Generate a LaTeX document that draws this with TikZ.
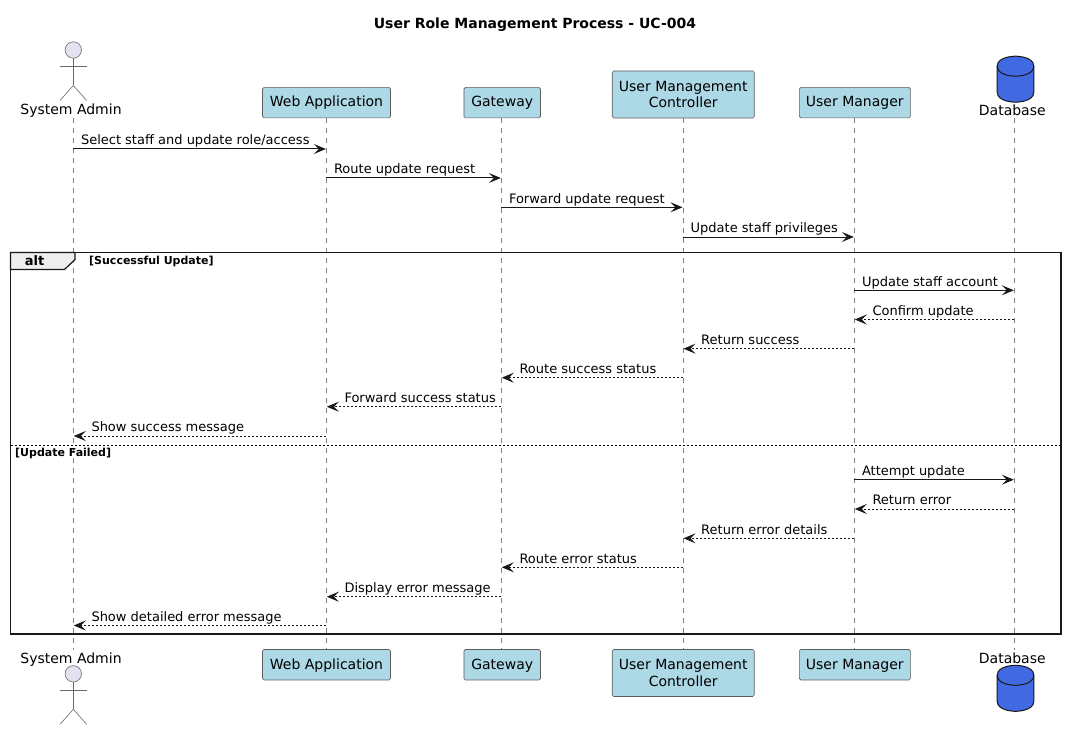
\documentclass[tikz,border=0pt]{standalone}
\usepackage{fontspec}
\setmainfont{DejaVu Sans}
\usetikzlibrary{arrows.meta,calc}
\definecolor{ink}{HTML}{181818}
\definecolor{partfill}{HTML}{ADD8E6}
\definecolor{actorfill}{HTML}{E2E2F0}
\definecolor{dbfill}{HTML}{4169E1}
\definecolor{tabfill}{HTML}{EEEEEE}
\tikzset{
  part/.style={draw=ink!70,line width=.6pt,fill=partfill,rounded corners=1.5pt,align=center,font=\fontsize{14}{16.5}\selectfont,text=black,inner sep=0pt,minimum height=30.5pt},
  single/.style={text height=10.8pt,text depth=2.2pt},
  lbl/.style={font=\fontsize{14}{16}\selectfont,text=black,inner sep=0pt,anchor=base},
  life/.style={draw=ink!55,line width=.6pt,dash pattern=on 5pt off 5pt},
  msgtxt/.style={font=\fontsize{13}{15}\selectfont,text=black,inner sep=0pt,anchor=base west},
  solidmsg/.style={draw=ink,line width=1pt,-{Stealth[length=12pt,width=10pt,inset=5pt,fill=ink]},shorten >=.5pt},
  dashmsg/.style={draw=ink,line width=1pt,dash pattern=on 2pt off 2pt,-{Stealth[length=12pt,width=10pt,inset=5pt,fill=ink]},shorten >=.5pt},
  limb/.style={draw=ink!65,line width=.6pt},
  head/.style={draw=ink!65,line width=.6pt,fill=actorfill},
  dbs/.style={draw=ink,line width=1pt,fill=dbfill},
  framebox/.style={draw=ink,line width=1.8pt},
}
\newcommand{\rmsg}[4]{\draw[solidmsg] (#1 |- 0,#3) -- (#2 |- 0,#3);
  \node[msgtxt] at ($(#1 |- 0,#3)+(7.5pt,4.1pt)$) {#4};}
\newcommand{\lmsg}[4]{\draw[dashmsg] (#1 |- 0,#3) -- (#2 |- 0,#3);
  \node[msgtxt] at ($(#2 |- 0,#3)+(18pt,4.1pt)$) {#4};}
\newcommand{\actorfig}[1]{%
  \draw[head] (73.3,#1) circle (8.2);
  \draw[limb] (73.3,#1+8.2) -- (73.3,#1+35.5);
  \draw[limb] (60,#1+16.2) -- (86.7,#1+16.2);
  \draw[limb] (60,#1+50.5) -- (73.3,#1+35.5) -- (86.7,#1+50.5);}
\newcommand{\dbfig}[1]{%
  \draw[dbs] (997.2,#1+10) .. controls (997.2,#1) and (1015.5,#1) .. (1015.5,#1)
     .. controls (1015.5,#1) and (1033.8,#1) .. (1033.8,#1+10)
     -- (1033.8,#1+36) .. controls (1033.8,#1+46) and (1015.5,#1+46) .. (1015.5,#1+46)
     .. controls (1015.5,#1+46) and (997.2,#1+46) .. (997.2,#1+36) -- cycle;
  \draw[draw=ink,line width=1pt] (997.2,#1+10) .. controls (997.2,#1+20) and (1015.5,#1+20) .. (1015.5,#1+20)
     .. controls (1015.5,#1+20) and (1033.8,#1+20) .. (1033.8,#1+10);}
\begin{document}
\begin{tikzpicture}[x=1pt,y=-1pt]
\useasboundingbox (0,0) rectangle (1067,730);
\fill[white] (0,0) rectangle (1067,730);
\node[font=\bfseries\fontsize{14}{16}\selectfont,text=black,inner sep=0pt,anchor=base] (title) at (535,28.5) {User Role Management Process - UC-004};

% lifeline anchors
\coordinate (sa) at (73.3,118);   \coordinate (saf) at (73.3,650);
\coordinate (db) at (1014.3,118); \coordinate (dbf) at (1014.3,650);
\node[part,single,minimum width=128pt] (wa) at (326.5,102.7) {Web Application};
\node[part,single,minimum width=76.5pt] (gw) at (502.2,102.7) {Gateway};
\node[part,minimum width=142pt,minimum height=47pt] (um) at (683.2,94.5) {User Management\\Controller};
\node[part,single,minimum width=111pt] (mg) at (854.8,102.7) {User Manager};
\node[part,single,minimum width=128pt] (waf) at (326.5,664.7) {Web Application};
\node[part,single,minimum width=76.5pt] (gwf) at (502.2,664.7) {Gateway};
\node[part,minimum width=142pt,minimum height=47pt] (umf) at (683.2,673) {User Management\\Controller};
\node[part,single,minimum width=111pt] (mgf) at (854.8,664.7) {User Manager};

\coordinate (wal) at (326.3,118);
\coordinate (gwl) at (501.3,118);
\coordinate (uml) at (683,118);
\coordinate (mgl) at (854.3,118);

\draw[life] (sa) -- (saf);
\draw[life] (wa.south -| wal) -- (waf.north -| wal);
\draw[life] (gw.south -| gwl) -- (gwf.north -| gwl);
\draw[life] (um.south -| uml) -- (umf.north -| uml);
\draw[life] (mg.south -| mgl) -- (mgf.north -| mgl);
\draw[life] (db) -- (dbf);

% actors and databases
\actorfig{50}
\node[lbl] (salbl) at (71,115) {System Admin};
\actorfig{673.8}
\node[lbl] (salblf) at (71,663.3) {System Admin};
\dbfig{56.2}
\node[lbl] (dblbl) at (1012.3,115.3) {Database};
\dbfig{665.3}
\node[lbl] (dblblf) at (1012.3,663.3) {Database};

% frame
\draw[framebox] (10.5,252.5) rectangle (1061,634);
\draw[framebox,fill=tabfill,line width=1.2pt] (10.5,252.5) -- (75,252.5) -- (75,259.5) -- (64.5,269.5) -- (10.5,269.5) -- cycle;
\node[font=\bfseries\fontsize{13}{15}\selectfont,text=black,inner sep=0pt,anchor=base] (alt) at (34.5,265) {alt};
\node[font=\bfseries\fontsize{11}{13}\selectfont,text=black,inner sep=0pt,anchor=base west] (c1) at (89,264) {[Successful Update]};
\coordinate (dl) at (10.5,445); \coordinate (dr) at (1061,445);
\draw[draw=black,line width=.9pt,dash pattern=on 2pt off 2pt] (dl) -- (dr);
\node[font=\bfseries\fontsize{11}{13}\selectfont,text=black,inner sep=0pt,anchor=base west] (c2) at (15,456) {[Update Failed]};

% messages
\rmsg{sa}{wal}{149}{Select staff and update role/access}
\rmsg{wal}{gwl}{178}{Route update request}
\rmsg{gwl}{uml}{207.3}{Forward update request}
\rmsg{uml}{mgl}{237}{Update staff privileges}
\rmsg{mgl}{db}{290.3}{Update staff account}
\lmsg{db}{mgl}{319.5}{Confirm update}
\lmsg{mgl}{uml}{348.7}{Return success}
\lmsg{uml}{gwl}{377.7}{Route success status}
\lmsg{gwl}{wal}{406.7}{Forward success status}
\lmsg{wal}{sa}{436}{Show success message}
\rmsg{mgl}{db}{479.7}{Attempt update}
\lmsg{db}{mgl}{509}{Return error}
\lmsg{mgl}{uml}{538.3}{Return error details}
\lmsg{uml}{gwl}{567.3}{Route error status}
\lmsg{gwl}{wal}{596.7}{Display error message}
\lmsg{wal}{sa}{625.5}{Show detailed error message}
\end{tikzpicture}
\end{document}
